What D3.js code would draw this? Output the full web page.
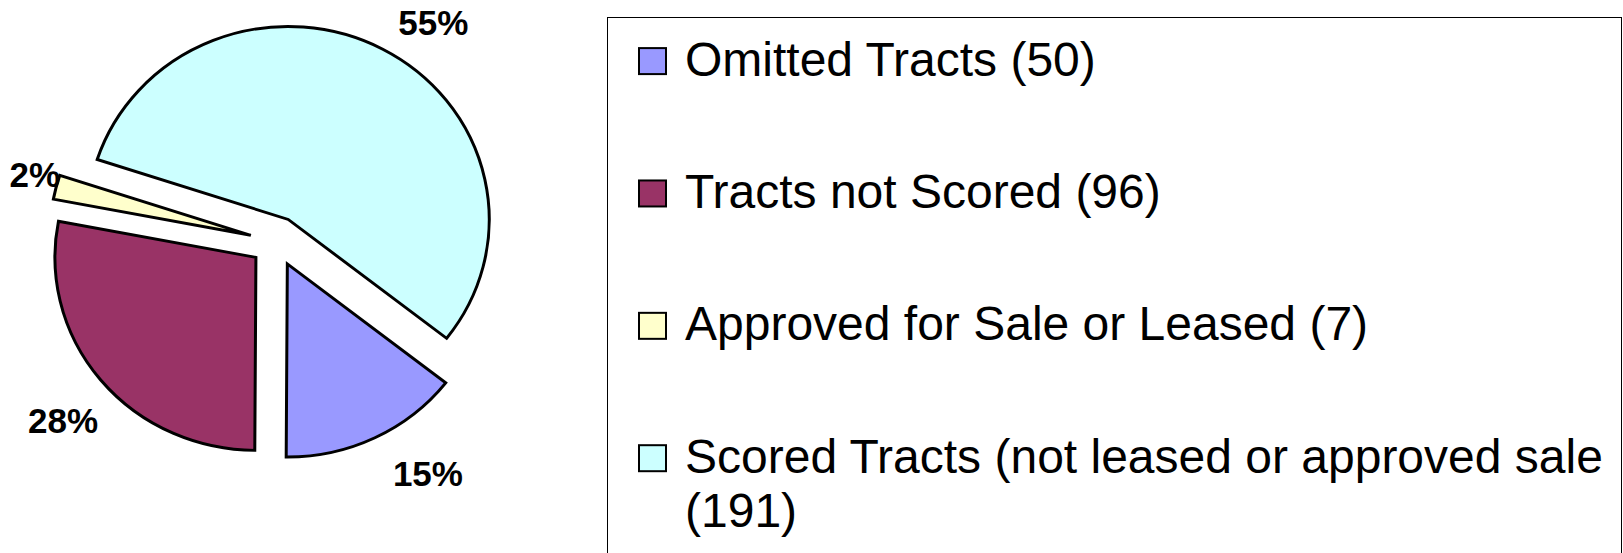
<!DOCTYPE html>
<html>
<head>
<meta charset="utf-8">
<script src="https://cdn.jsdelivr.net/npm/d3@7"></script>
<style>
  body { margin: 0; background: white; }
  svg { display: block; font-family: "Liberation Sans", Arial, sans-serif; }
</style>
</head>
<body>
<div id="chart"></div>
<script>
// datos del grafico
var categorias = ["Omitted Tracts", "Tracts not Scored", "Approved for Sale or Leased", "Scored Tracts (not leased or approved sale"];
var valores    = [50, 96, 7, 191];
var porcentajes = ["15%", "28%", "2%", "55%"];
var colores    = ["#9999FF", "#993366", "#FFFFCC", "#CCFFFF"];

var width  = 1623;
var height = 553;

// pie geometry (slightly oval like the original)
var cx = 276, cy = 241.5;
var rx = 201, ry = 193;
var explode = 26;
var inicio = 128 * Math.PI / 180;

// small label nudges, degrees / radius factor
var labelShift = [-7, -2, 2, 7.2];
var labelRad   = [1.29, 1.28, 1.12, 1.25];

var svg = d3.select("#chart")
    .append("svg")
    .attr("width", width)
    .attr("height", height);

var pie = d3.pie()
    .sort(null)
    .startAngle(inicio)
    .endAngle(inicio + 2 * Math.PI)
    .value(function(d){ return d; });

var arc = d3.arc()
    .innerRadius(0)
    .outerRadius(rx);

var arcos = pie(valores);

var gPie = svg.append("g")
    .attr("transform", "translate(" + cx + "," + cy + ") scale(1," + (ry / rx) + ")");

gPie.selectAll("path")
    .data(arcos)
    .join("path")
    .attr("d", arc)
    .attr("transform", function(d){
        var a = (d.startAngle + d.endAngle) / 2;
        return "translate(" + (explode * Math.sin(a)) + "," + (-explode * Math.cos(a)) + ")";
    })
    .attr("fill", function(d, i){ return colores[i]; })
    .attr("stroke", "black")
    .attr("stroke-width", 3)
    .attr("stroke-linejoin", "miter");

// etiquetas de porcentaje
svg.append("g")
    .selectAll("text")
    .data(arcos)
    .join("text")
    .attr("x", function(d, i){
        var a = (d.startAngle + d.endAngle) / 2;
        var b = a + labelShift[i] * Math.PI / 180;
        return cx + explode * Math.sin(a) + rx * labelRad[i] * Math.sin(b);
    })
    .attr("y", function(d, i){
        var a = (d.startAngle + d.endAngle) / 2;
        var b = a + labelShift[i] * Math.PI / 180;
        return cy + (ry / rx) * (-explode * Math.cos(a)) - ry * labelRad[i] * Math.cos(b);
    })
    .attr("dy", "0.36em")
    .attr("text-anchor", "middle")
    .style("font-size", "35px")
    .style("font-weight", "bold")
    .text(function(d, i){ return porcentajes[i]; });

// leyenda
var legendX = 607.5, legendY = 17.5;
svg.append("rect")
    .attr("x", legendX)
    .attr("y", legendY)
    .attr("width", 1014)
    .attr("height", 600)
    .attr("fill", "white")
    .attr("stroke", "black")
    .attr("stroke-width", 1);

var filaY = d3.scaleLinear()
    .domain([0, 3])
    .range([75.6, 472.7]);

var legend = svg.append("g");

var filas = legend.selectAll("g")
    .data(categorias)
    .join("g")
    .attr("transform", function(d, i){ return "translate(0," + filaY(i) + ")"; });

filas.append("rect")
    .attr("x", 639)
    .attr("y", -27.5)
    .attr("width", 27)
    .attr("height", 26)
    .attr("fill", function(d, i){ return colores[i]; })
    .attr("stroke", "black")
    .attr("stroke-width", 2);

filas.append("text")
    .attr("x", 685)
    .attr("y", 0)
    .style("font-size", "48px")
    .each(function(d, i){
        var t = d3.select(this);
        var palabras = (d + " (" + valores[i] + ")").split(" ");
        var linea = [];
        var tspan = t.append("tspan").attr("x", 685).attr("dy", 0);
        palabras.forEach(function(p){
            linea.push(p);
            tspan.text(linea.join(" "));
            if (tspan.node().getComputedTextLength() > 930 && linea.length > 1) {
                linea.pop();
                tspan.text(linea.join(" "));
                linea = [p];
                tspan = t.append("tspan").attr("x", 685).attr("dy", 54.6).text(p);
            }
        });
    });
</script>
</body>
</html>
